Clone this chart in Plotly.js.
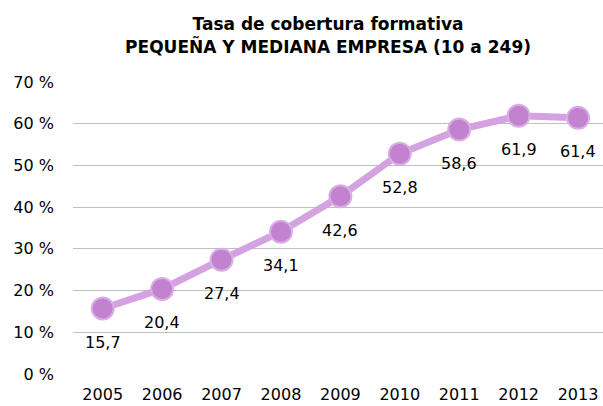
<!DOCTYPE html>
<html><head><meta charset="utf-8">
<script src="https://cdn.plot.ly/plotly-3.0.1.min.js"></script>
<style>html,body{margin:0;padding:0;background:#fff}#c{width:603px;height:406px}</style>
</head><body><div id="c"></div>
<script>
const years = ['2005','2006','2007','2008','2009','2010','2011','2012','2013'];
const rates = [15.7, 20.4, 27.4, 34.1, 42.6, 52.8, 58.6, 61.9, 61.4];
const labels = ['15,7','20,4','27,4','34,1','42,6','52,8','58,6','61,9','61,4'];
const yTicks = [0,10,20,30,40,50,60,70];
const yTickText = ['0 %','10 %','20 %','30 %','40 %','50 %','60 %','70 %'];

const font = 'DejaVu Sans, Verdana, sans-serif';
const trace = {
  x: years, y: rates, type: 'scatter', mode: 'lines+markers',
  line: {color: '#D4A2E0', width: 7},
  marker: {size: 22, color: '#C282CF', line: {color: '#D9AEE4', width: 2}},
  hoverinfo: 'skip', cliponaxis: false
};
const annotations = years.map((yr, i) => ({
  x: i, y: rates[i], xref: 'x', yref: 'y', text: labels[i], showarrow: false,
  xanchor: 'center', yanchor: 'middle', yshift: -34,
  font: {family: font, size: 16, color: '#000000'}
}));
const layout = {
  width: 603, height: 406,
  margin: {l: 73, r: 0, t: 82, b: 32},
  paper_bgcolor: '#fff', plot_bgcolor: '#fff',
  showlegend: false,
  title: {text: '<b>Tasa de cobertura formativa<br>PEQUEÑA Y MEDIANA EMPRESA (10 a 249)</b>',
    x: 0.544, xanchor: 'center', y: 0.925, yanchor: 'top',
    font: {family: font, size: 17, color: '#000'}},
  xaxis: {type: 'category', range: [-0.5, 8.42], showgrid: false, zeroline: false, showline: false,
    ticks: '', ticklabelstandoff: 9, tickfont: {family: font, size: 16, color: '#000'}},
  yaxis: {range: [0, 70], tickvals: yTicks, ticktext: yTickText, showgrid: true, gridcolor: '#BFBFBF',
    gridwidth: 1, zeroline: false, showline: false, ticks: '', ticklabelstandoff: 18,
    tickfont: {family: font, size: 16, color: '#000'}},
  annotations: annotations
};
Plotly.newPlot('c', [trace], layout, {displayModeBar: false, staticPlot: true});
</script></body></html>
